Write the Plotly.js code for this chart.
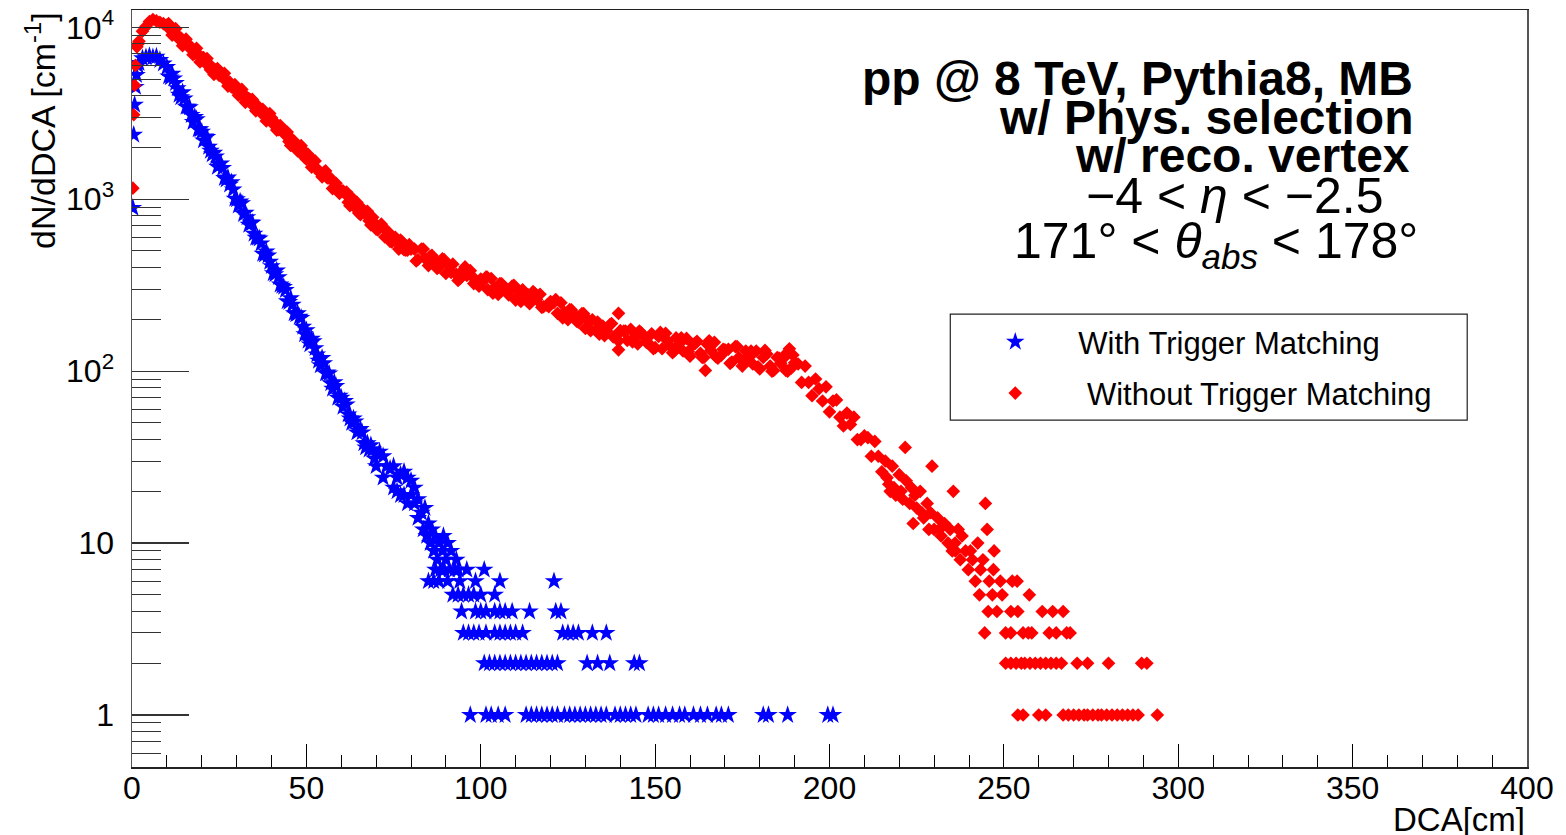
<!DOCTYPE html>
<html>
<head>
<meta charset="utf-8">
<script src="https://cdn.plot.ly/plotly-3.0.1.min.js"></script>
<style>html,body{margin:0;padding:0;background:#fff;}#chart{width:1566px;height:835px;}</style>
</head>
<body>
<div id="chart"></div>
<script>
// ---- With Trigger Matching (blue stars): main band ----
const blueX = [0.25,0.5,0.75,1,1.3,1.7,
2,3,4,5,6,7,8,9,10,11,12,13,14,15,16,17,18,19,20,21,22,23,24,25,26,27,28,29,30,
31,32,33,34,35,36,37,38,39,40,41,42,43,44,45,46,47,48,49,50,51,52,53,54,55,56,57,58,59,60,
61,62,63,64,65,66,67,68,69,70,71,72,73,74,75,76,77,78,79,80,81,82,83];
const blueY = [890,2370,3540,4500,5280,6000,
6200,6600,6700,6800,6700,6750,6450,6150,5865,5111,5044,4414,3917,3855,3454,3084,3004,2554,2469,2312,2019,1822,1772,1590,1518,1302,1215,1138,1000,
969,821,786,733,629,596,553,477,470,408,366,352,314,296,252,243,214,207,181,173,143,149,125,108,111,98,85,86,70,70,
67,56,50,51,45,44,36,35,35,28,34,24,28,27,21,24,25,19,24,19,17,18,15];
// ---- blue half-bin points ----
const blueMidX = [10.5,11.5,12.5,13.5,14.5,15.5,16.5,17.5,18.5,19.5,20.5,21.5,22.5,23.5,24.5,25.5,26.5,27.5,28.5,29.5,
30.5,31.5,32.5,33.5,34.5,35.5,36.5,37.5,38.5,39.5,40.5,41.5,42.5,43.5,44.5,45.5,46.5,47.5,48.5,49.5,
50.5,51.5,52.5,53.5,54.5,55.5,56.5,57.5,58.5,59.5,60.5,61.5,62.5,63.5,64.5,65.5,66.5,67.5,68.5,69.5];
const blueMidY = [5179,5364,4738,4047,4184,3446,3429,2815,2917,2548,2198,2298,1914,1862,1542,1615,1329,1335,1256,1007,
920,948,833,709,729,596,590,482,497,432,371,385,319,309,255,265,217,217,204,164,
150,154,136,115,119,97,97,79,82,72,62,64,53,53,44,46,38,38,37,31];
// ---- blue scattered / low-count points ----
const blueTailX = [72,75,76,77,78,79,80,81,82,
83.5,84,84.5,85,85,85.5,86,86.5,86.5,87,87,87.5,88,88,88.5,89,89.3,89.5,90,90.5,90.5,91,91.5,92.5,93,93.5,94,96,101,98.5,105.5,121,
92,93.5,95,96.5,98,100,104,
94.5,98.5,100,101.5,104,105.5,107,109,114,121.5,123,
95,96.5,98,99.5,101.5,104,105.5,107,108.5,110,112,123.5,125,126.5,128,132,136,
101,102.5,104,105.5,107,108.5,110,111.5,113,114.5,116,117.5,119,120.5,122,130.5,133.5,137,144,145.5,
97,101.5,103,105,107,113,114.5,116,117.5,119,120.5,122,124,125.5,127,128.5,130,131.5,133,134.5,136,138.5,140,141.5,143,144.5,148,149.5,151,153,155,157,158.5,161,163,165,167.5,169,171,181,182.5,188,199.5,201];
const blueTailY = [32,28,20,19,26,17,23,21,14,
12,16,11,13,6,10,12,6,9,11,7,8,10,6,7,9,11,7,8,6,10,7,9,7,8,7,6,7,7,6,6,6,
5,5,5,5,5,5,5,
4,4,4,4,4,4,4,4,4,4,4,
3,3,3,3,3,3,3,3,3,3,3,3,3,3,3,3,3,
2,2,2,2,2,2,2,2,2,2,2,2,2,2,2,2,2,2,2,2,
1,1,1,1,1,1,1,1,1,1,1,1,1,1,1,1,1,1,1,1,1,1,1,1,1,1,1,1,1,1,1,1,1,1,1,1,1,1,1,1,1,1,1,1];

// ---- Without Trigger Matching (red diamonds): main band ----
const redX = [0.25,0.5,0.75,1,1.4,1.7,
2,3,4,5,6,7,8,9,10,11,12,13,14,15,16,17,18,19,20,21,22,23,24,25,26,27,28,29,30,
31,32,33,34,35,36,37,38,39,40,41,42,43,44,45,46,47,48,49,50,51,52,53,54,55,56,57,58,59,60,
61,62,63,64,65,66,67,68,69,70,71,72,73,74,75,76,77,78,79,80,81,82,83,84,85,86,87,88,89,90,
91,92,93,94,95,96,97,98,99,100,101,102,103,104,105,106,107,108,109,110,111,112,113,114,115,116,117,118,119,120,
121,122,123,124,125,126,127,128,129,130,131,132,133,134,135,136,137,138,139,140,141,142,143,144,145,146,147,148,149,150,
151,152,153,154,155,156,157,158,159,160,161,162,163,164,165,166,167,168,169,170,171,172,173,174,175,176,177,178,179,180,
181,182,183,184,185,186,187,188,189,190,191,192,193,194,195,196,197,198,199,200,201,202,203,204,205,206,207,208,209,210,
211,212,213,214,215];
const redY = [1160,3100,4600,6000,7700,8000,
8300,9500,10100,10800,11100,10900,10700,10500,10300,9650,9500,8850,8700,8100,7950,7400,7300,6850,6700,6200,6150,5800,5650,5250,5250,4850,4800,4450,4450,
4100,4100,3760,3780,3450,3500,3180,3220,2920,2980,2805,2536,2590,2361,2170,2220,2068,1913,1937,1709,1710,1662,1509,1417,1434,1330,1321,1176,1136,1118,
1082,959,1022,912,832,883,816,750,785,670,696,686,608,569,596,560,578,508,506,513,513,446,513,453,411,471,438,402,450,370,
410,419,366,345,387,360,384,323,329,343,341,298,346,306,279,322,301,278,312,259,289,297,261,247,279,261,280,237,242,254,
251,217,250,220,199,227,211,193,216,177,196,199,174,164,183,172,186,158,162,172,171,151,175,157,144,167,157,146,165,137,
159,135,166,142,128,156,145,131,155,122,143,149,127,120,143,132,147,119,124,133,134,113,139,120,107,131,121,110,131,103,
120,126,107,101,120,111,123,100,104,112,110,86,107,86,72,90,79,67,81,58,67,68,54,48,57,49,54,40,40,42,
41,32,39,32,26];
// ---- red half-bin points ----
const redMidX = [10.5,11.5,12.5,13.5,14.5,15.5,16.5,17.5,18.5,19.5,20.5,21.5,22.5,23.5,24.5,25.5,26.5,27.5,28.5,29.5,
30.5,31.5,32.5,33.5,34.5,35.5,36.5,37.5,38.5,39.5,40.5,41.5,42.5,43.5,44.5,45.5,46.5,47.5,48.5,49.5,
50.5,51.5,52.5,53.5,54.5,55.5,56.5,57.5,58.5,59.5,60.5,61.5,62.5,63.5,64.5,65.5,66.5,67.5,68.5,69.5,
70.5,71.5,72.5,73.5,74.5,75.5,76.5,77.5,78.5,79.5,
81.5,83.5,85.5,87.5,89.5,91.5,93.5,95.5,97.5,99.5,101.5,103.5,105.5,107.5,109.5,111.5,113.5,115.5,117.5,119.5,
121.5,123.5,125.5,127.5,129.5,131.5,133.5,135.5,137.5,139.5,141.5,143.5,145.5,147.5,149.5,151.5,153.5,155.5,157.5,159.5,
161.5,163.5,165.5,167.5,169.5,171.5,173.5,175.5,177.5,179.5,181.5,183.5,185.5,187.5,189.5];
const redMidY = [10500,9015,9823,8521,7817,8528,7854,6928,7549,6282,6669,6583,5657,5315,5759,5260,5398,4550,4506,4638,
4023,4351,3660,3851,3806,3267,3368,3328,2855,3151,2731,2524,2683,2435,2459,2055,2173,1910,2049,1752,
1822,1535,1670,1460,1349,1461,1326,1153,1239,1080,1118,1100,916,915,958,814,854,850,708,729,
663,716,603,645,564,601,513,564,506,544,
437,513,466,396,445,375,337,404,356,312,353,284,323,287,316,254,279,284,235,237,
261,204,228,195,216,172,193,161,189,150,171,148,171,147,135,168,150,131,156,130,
145,120,150,121,134,111,139,115,131,106,132,100,119,101,124];
// ---- red scattered / low-count points ----
const redTailX = [101.8,115,139.5,139.5,164.4,186.8,188.5,
216,216.5,217,217.4,218,218.5,219,220,220.5,221,221.7,222,223,223.5,224,224.5,225,226,226.5,227,228,228.5,229,229.4,230,
231,231.5,232,233,234,234.6,235.2,235.5,236,236.9,237.5,238,239,239.8,240.4,241,241.8,242.5,243,243.3,244,244.7,245.2,
236.1,247.2,247,245.8,249,252.4,253.8,246.7,249.5,257.3,
245.5,248,252,254,261,264,267,
244.5,250.5,252,255.5,257,258,263,265,268,269,
250.5,252,253.5,255,256,257.5,259,260.5,262,263.5,265,266.5,271,274,280,289.5,291,
254,255.5,260,262,267,268.5,270,271.5,273,274,275.5,277,278,279.5,281,282.5,284,285.5,287,288.5,294];
const redTailY = [353,290,217,133,101,119,135,
30,24,22,20,28,21,19,25,20,18,36,23,17,21,13,19,16,20,15,14,17,12,15,28,12,
14,12,11,13,10,12,9,20,10,12,8,11,9,7,9,8,6,10,5,7,8,17,12,
9,9,7,6,6,6,6,5,5,5,
4,4,4,4,4,4,4,
3,3,3,3,3,3,3,3,3,3,
2,2,2,2,2,2,2,2,2,2,2,2,2,2,2,2,2,
1,1,1,1,1,1,1,1,1,1,1,1,1,1,1,1,1,1,1,1,1];

const seriesNames = ['With Trigger Matching', 'Without Trigger Matching'];
const yTickVals = [1, 10, 100, 1000, 10000];
const yTickText = ['1', '10', '10<sup>2</sup>', '10<sup>3</sup>', '10<sup>4</sup>'];
const infoLines = ['<b>pp @ 8 TeV, Pythia8, MB</b>', '<b>w/ Phys. selection</b>', '<b>w/ reco. vertex</b>',
  '\u22124 &lt; <i>\u03b7</i> &lt; \u22122.5', '171\u00b0 &lt; <i>\u03b8</i><sub><i>abs</i></sub> &lt; 178\u00b0'];

// minor tick positions for the log axis (style only)
const yMinor = [];
for (let e = -1; e <= 4; e++) for (let k = 2; k <= 9; k++) { const v = k * Math.pow(10, e); if (v >= 0.5 && v <= 12600) yMinor.push(v); }

// pixel helpers for placing decorations (plot area 131.6..1526.8 x, 10..766.7 y)
const PX0 = 131.6, PW = 1395.2, PY1 = 766.7, PH = 756.7;
const px = x => (x - PX0) / PW;
const py = y => (PY1 - y) / PH;

const FONT = '"Liberation Sans", Arial, Helvetica, sans-serif';
const nb = '\u00a0';

const traces = [
  { type: 'scatter', mode: 'markers', name: nb.repeat(5) + seriesNames[0], legendgroup: 'a',
    x: blueX.concat(blueMidX, blueTailX), y: blueY.concat(blueMidY, blueTailY),
    marker: { symbol: 'star', size: 14, color: '#0000ff', line: { width: 0 } } },
  { type: 'scatter', mode: 'markers', name: nb.repeat(6) + seriesNames[1], legendgroup: 'b',
    x: redX.concat(redMidX, redTailX), y: redY.concat(redMidY, redTailY),
    marker: { symbol: 'diamond', size: 10.5, color: '#ff0000', line: { width: 0 } } }
];

const annY = [78, 117, 155, 196, 244];
const annX = [1415, 1415, 1412, 1385, 1420];
const annSize = [48, 48, 48, 50, 50];
const annotations = infoLines.map((t, i) => ({
  text: t, xref: 'paper', yref: 'paper', x: px(annX[i]), y: py(annY[i]),
  xanchor: 'right', yanchor: 'middle', showarrow: false,
  font: { family: FONT, size: annSize[i], color: '#000' }
}));
annotations.push({ text: 'dN/dDCA [cm<sup>-1</sup>]', xref: 'paper', yref: 'paper', x: px(40), y: 1,
  xanchor: 'center', yanchor: 'top', textangle: -90, showarrow: false,
  font: { family: FONT, size: 34, color: '#000' } });
annotations.push({ text: 'DCA[cm]', xref: 'paper', yref: 'paper', x: 1, y: py(819),
  xanchor: 'right', yanchor: 'middle', showarrow: false,
  font: { family: FONT, size: 33, color: '#000' } });

const layout = {
  width: 1566, height: 835,
  margin: { l: 131.6, r: 39.2, t: 10, b: 68.3, pad: 0 },
  paper_bgcolor: '#fff', plot_bgcolor: '#fff',
  font: { family: FONT, color: '#000' },
  showlegend: true,
  legend: { x: px(995), y: py(315), xanchor: 'left', yanchor: 'top', bgcolor: 'rgba(0,0,0,0)',
    borderwidth: 0, font: { family: FONT, size: 31, color: '#000' }, traceorder: 'grouped', tracegroupgap: 8 },
  xaxis: { range: [0, 400], tickmode: 'linear', tick0: 0, dtick: 50, ticks: 'inside', ticklen: 23,
    tickwidth: 1.2, tickcolor: '#000', showline: true, linecolor: '#222', linewidth: 1.5, mirror: true,
    showgrid: false, zeroline: false, tickfont: { family: FONT, size: 32, color: '#000' }, ticklabelstandoff: -8,
    minor: { tick0: 0, dtick: 10, ticks: 'inside', ticklen: 12, tickwidth: 1, tickcolor: '#000', showgrid: false } },
  yaxis: { type: 'log', range: [-0.3027, 4.1007], tickmode: 'array', tickvals: yTickVals, ticktext: yTickText,
    ticks: 'inside', ticklen: 57, tickwidth: 1.2, tickcolor: '#333', showline: true, linecolor: '#555', linewidth: 1.5,
    mirror: true, showgrid: false, zeroline: false, tickfont: { family: FONT, size: 32, color: '#000' }, ticklabelstandoff: 10,
    minor: { tickmode: 'array', tickvals: yMinor, ticks: 'inside', ticklen: 29, tickwidth: 1, tickcolor: '#333', showgrid: false } },
  shapes: [{ type: 'rect', xref: 'paper', yref: 'paper', x0: px(950), x1: px(1467), y0: py(420), y1: py(314),
    line: { color: '#222', width: 1.2 }, fillcolor: 'rgba(0,0,0,0)' }],
  annotations: annotations
};

Plotly.newPlot('chart', traces, layout, { displayModeBar: false, staticPlot: true });
</script>
</body>
</html>
